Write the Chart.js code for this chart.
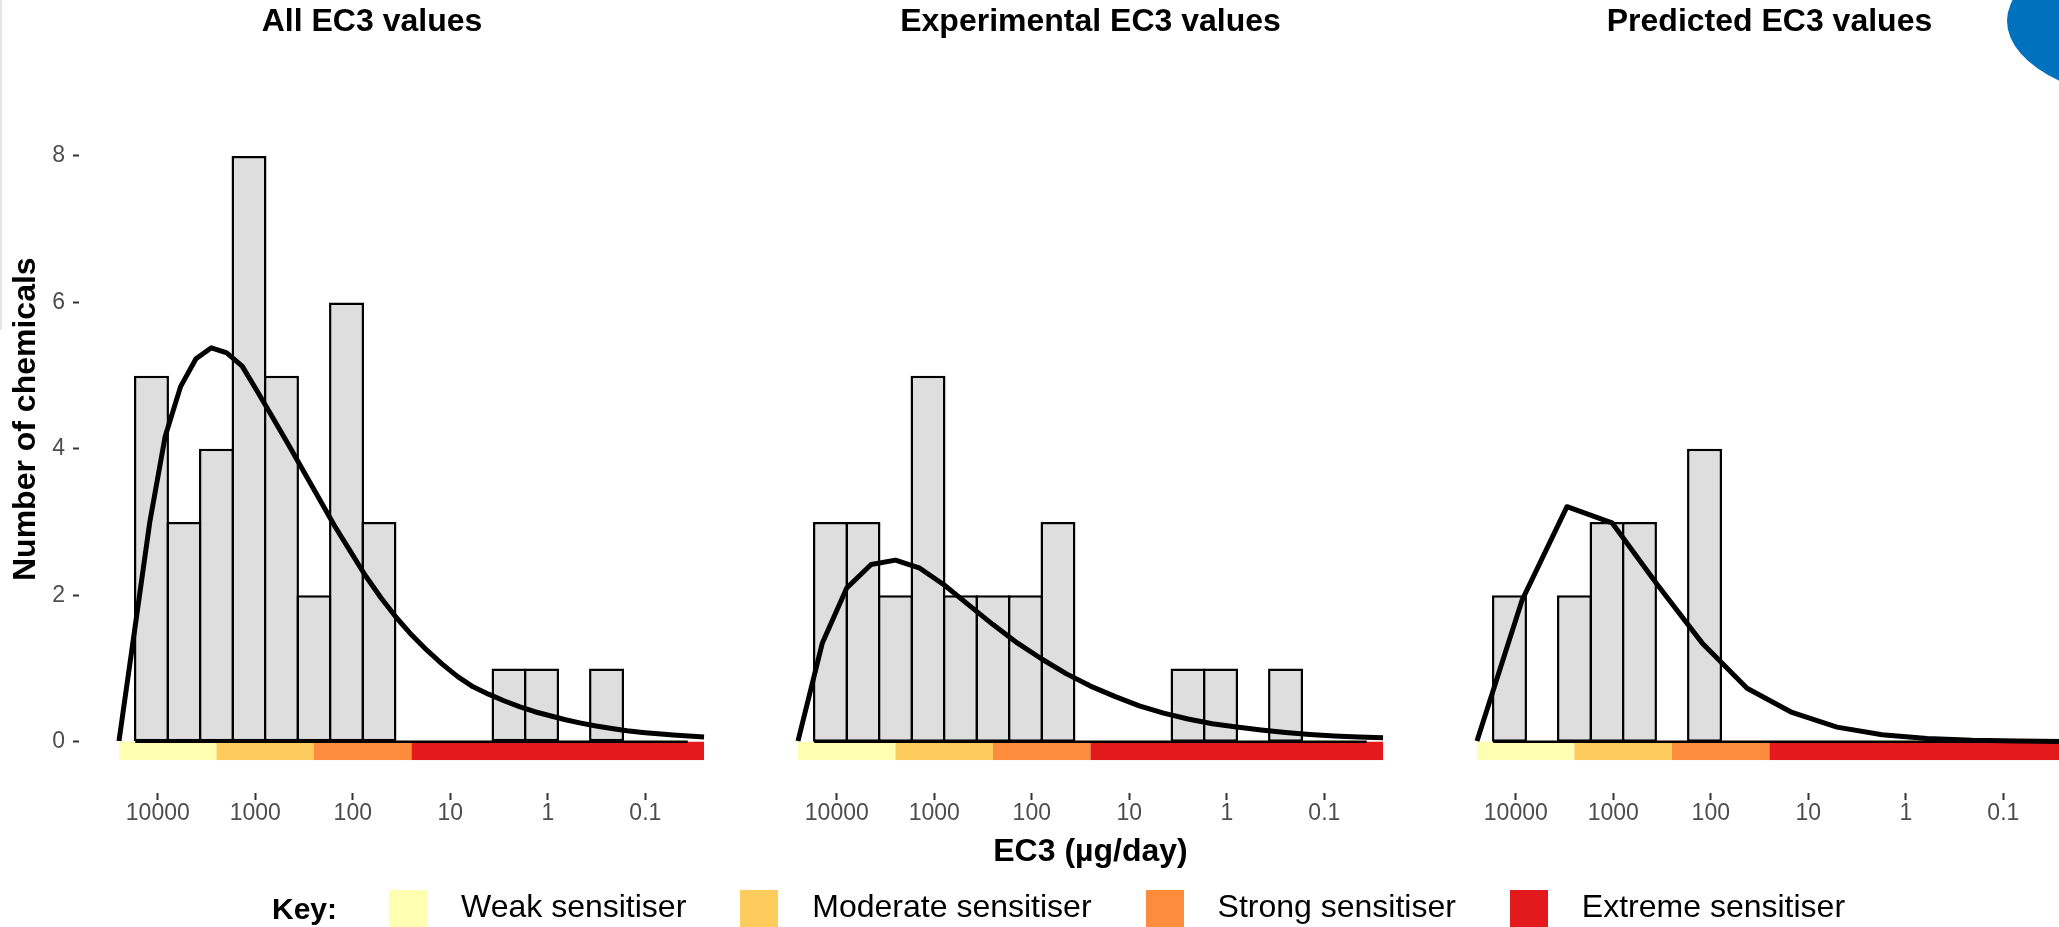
<!DOCTYPE html>
<html>
<head>
<meta charset="utf-8">
<script src="https://cdn.jsdelivr.net/npm/chart.js@4.4.1/dist/chart.umd.min.js"></script>
<style>
  html, body { margin: 0; padding: 0; background: #fff; }
  body { width: 2059px; height: 927px; overflow: hidden; position: relative; font-family: "Liberation Sans", Arial, sans-serif; }
  .panel { position: absolute; top: 0; height: 927px; }
  #p1 { left: 0; width: 744px; }
  #p2 { left: 758px; width: 665px; }
  #p3 { left: 1437px; width: 665px; }
  #edge { position: absolute; left: 0; top: 0; width: 2px; height: 330px; background: #e6e6e6; }
  #logo { position: absolute; left: 2007px; top: -64px; width: 360px; height: 170px; border-radius: 50%; background: #0071bc; }
  #key { position: absolute; left: 272px; top: 890px; height: 38px; display: flex; align-items: center; font-size: 32px; color: #000; }
  #key .title { font-weight: bold; font-size: 30px; margin-right: 52px; }
  #key .sw { width: 38px; height: 38px; }
  #key .lab { margin: 0 54px 0 34px; position: relative; top: -3px; }
</style>
</head>
<body>
<div id="edge"></div>
<div class="panel" id="p1"><canvas id="c1"></canvas></div>
<div class="panel" id="p2"><canvas id="c2"></canvas></div>
<div class="panel" id="p3"><canvas id="c3"></canvas></div>
<div id="key"><span class="title">Key:</span></div>
<div id="logo"></div>
<script>
// histogram bins (bin centres, µg/day) and counts per panel
const binCenters = [11604, 5386, 2500, 1160, 539, 250, 116, 53.9, 25, 11.6, 5.39, 2.5, 1.16, 0.539, 0.25, 0.116, 0.0539];
const countsAll = [5, 3, 4, 8, 5, 2, 6, 3, 0, 0, 0, 1, 1, 0, 1, 0, 0];
const countsExperimental = [3, 3, 2, 5, 2, 2, 2, 3, 0, 0, 0, 1, 1, 0, 1, 0, 0];
const countsPredicted = [2, 0, 2, 3, 3, 0, 4, 0, 0, 0, 0, 0, 0, 0, 0, 0, 0];

// density curves, scaled to counts
const curveAllX = [25000, 17378, 12081, 8400, 5840, 4060, 2822, 1962, 1364, 948, 659, 458, 319, 221, 154, 107, 74.4, 51.7, 36.0, 25.0,
  17.4, 12.1, 8.40, 5.84, 4.06, 2.82, 1.96, 1.36, 0.948, 0.659, 0.458, 0.319, 0.221, 0.154, 0.107, 0.0744, 0.0517, 0.0360, 0.025];
const curveAllY = [0.01, 1.5, 3.0, 4.17, 4.85, 5.23, 5.38, 5.31, 5.13, 4.78, 4.42, 4.06, 3.69, 3.32, 2.95, 2.61, 2.27, 1.97, 1.70, 1.46,
  1.25, 1.06, 0.89, 0.75, 0.65, 0.56, 0.48, 0.41, 0.355, 0.30, 0.255, 0.215, 0.18, 0.15, 0.127, 0.108, 0.093, 0.078, 0.065];
const curveExpX = [25000, 14060, 7906, 4446, 2500, 1406, 791, 445, 250, 141, 79.1, 44.5, 25, 14.1, 7.91, 4.45, 2.5, 1.41, 0.791, 0.445,
  0.25, 0.141, 0.0791, 0.0445, 0.025];
const curveExpY = [0.01, 1.35, 2.10, 2.42, 2.48, 2.37, 2.14, 1.87, 1.60, 1.35, 1.13, 0.93, 0.76, 0.62, 0.49, 0.39, 0.31, 0.245, 0.20, 0.16,
  0.127, 0.10, 0.08, 0.065, 0.055];
const curvePredX = [25000, 8638, 2985, 1031, 356, 123, 42.5, 14.7, 5.08, 1.75, 0.606, 0.209, 0.0724, 0.025];
const curvePredY = [0.01, 1.93, 3.21, 2.99, 2.15, 1.35, 0.73, 0.40, 0.20, 0.095, 0.045, 0.02, 0.01, 0.005];

const tickValues = [10000, 1000, 100, 10, 1, 0.1];
const tickLabels = ['10000', '1000', '100', '10', '1', '0.1'];
const yTicks = [0, 2, 4, 6, 8];

// potency classes shown as the coloured strip under each panel
const classLimits = [25000, 2500, 250, 25, 0.025];
const classNames = ['Weak sensitiser', 'Moderate sensitiser', 'Strong sensitiser', 'Extreme sensitiser'];
const classColors = ['#FFFFB2', '#FECC5C', '#FD8D3C', '#E31A1C'];

const panelTitles = ['All EC3 values', 'Experimental EC3 values', 'Predicted EC3 values'];

Chart.defaults.font.family = '"Liberation Sans", Arial, sans-serif';

const bandPlugin = {
  id: 'bands',
  beforeDatasetsDraw(chart) {
    const { ctx, scales: { x, y } } = chart;
    const top = y.getPixelForValue(0);
    const bottom = y.getPixelForValue(-0.25);
    ctx.save();
    for (let i = 0; i < classColors.length; i++) {
      const a = x.getPixelForValue(classLimits[i]);
      const b = x.getPixelForValue(classLimits[i + 1]);
      ctx.fillStyle = classColors[i];
      ctx.fillRect(a, top, b - a, bottom - top);
    }
    // zero line of the histogram, across all bins
    const n = binCenters.length;
    const p0 = x.getPixelForValue(binCenters[0]), p1 = x.getPixelForValue(binCenters[1]);
    const pn = x.getPixelForValue(binCenters[n - 1]), pm = x.getPixelForValue(binCenters[n - 2]);
    ctx.strokeStyle = '#000';
    ctx.lineWidth = 2.5;
    ctx.beginPath();
    ctx.moveTo(p0 - (p1 - p0) / 2, top);
    ctx.lineTo(pn + (pn - pm) / 2, top);
    ctx.stroke();
    ctx.restore();
  }
};

function makePanel(id, title, counts, cx, cy, first, showXTitle) {
  return new Chart(document.getElementById(id), {
    type: 'bar',
    data: {
      datasets: [
        {
          type: 'line',
          data: cx.map((v, i) => ({ x: v, y: cy[i] })),
          borderColor: '#000',
          borderWidth: 5,
          borderJoinStyle: 'round',
          pointRadius: 0,
          tension: 0,
          order: 1
        },
        {
          type: 'bar',
          data: binCenters.map((v, i) => ({ x: v, y: counts[i] })),
          backgroundColor: '#DEDEDE',
          borderColor: '#000',
          borderWidth: 2.5,
          borderSkipped: false,
          categoryPercentage: 1,
          barPercentage: 1.077,
          order: 2
        }
      ]
    },
    options: {
      responsive: true,
      maintainAspectRatio: false,
      animation: false,
      devicePixelRatio: 1,
      layout: { padding: 0 },
      plugins: {
        legend: { display: false },
        tooltip: { enabled: false },
        title: {
          display: true,
          text: title,
          color: '#000',
          font: { size: 32, weight: 'bold' },
          padding: { top: 3, bottom: 4 }
        }
      },
      scales: {
        x: {
          type: 'logarithmic',
          reverse: true,
          bounds: 'data',
          min: 0.00973,
          max: 64270,
          offset: false,
          afterBuildTicks: s => { s.ticks = tickValues.map(v => ({ value: v })); },
          afterFit: s => { s.height = 134; },
          ticks: {
            autoSkip: false,
            maxRotation: 0,
            padding: 0,
            color: '#4D4D4D',
            font: { size: 23 },
            callback: (v, i) => tickLabels[i]
          },
          grid: { display: true, offset: false, drawOnChartArea: false, drawTicks: true, tickLength: 7, tickWidth: 2, tickColor: '#333' },
          border: { display: false },
          title: {
            display: showXTitle,
            text: 'EC3 (µg/day)',
            color: '#000',
            font: { size: 32, weight: 'bold' },
            padding: { top: 0, bottom: 56 }
          }
        },
        y: {
          display: first,
          min: -0.7,
          max: 9.51,
          afterBuildTicks: s => { s.ticks = yTicks.map(v => ({ value: v })); },
          afterFit: s => { s.width = first ? 79 : 0; },
          ticks: {
            padding: 8,
            color: '#4D4D4D',
            font: { size: 23 }
          },
          grid: { display: true, drawOnChartArea: false, drawTicks: true, tickLength: 6, tickWidth: 2, tickColor: '#333' },
          border: { display: false },
          title: {
            display: true,
            text: 'Number of chemicals',
            color: '#000',
            font: { size: 32, weight: 'bold' },
            padding: { top: 7, bottom: 0 }
          }
        }
      }
    },
    plugins: [bandPlugin]
  });
}

makePanel('c1', panelTitles[0], countsAll, curveAllX, curveAllY, true, false);
makePanel('c2', panelTitles[1], countsExperimental, curveExpX, curveExpY, false, true);
makePanel('c3', panelTitles[2], countsPredicted, curvePredX, curvePredY, false, false);

// key row
const key = document.getElementById('key');
classNames.forEach((name, i) => {
  const sw = document.createElement('span');
  sw.className = 'sw';
  sw.style.background = classColors[i];
  const lab = document.createElement('span');
  lab.className = 'lab';
  lab.textContent = name;
  key.appendChild(sw);
  key.appendChild(lab);
});
</script>
</body>
</html>
